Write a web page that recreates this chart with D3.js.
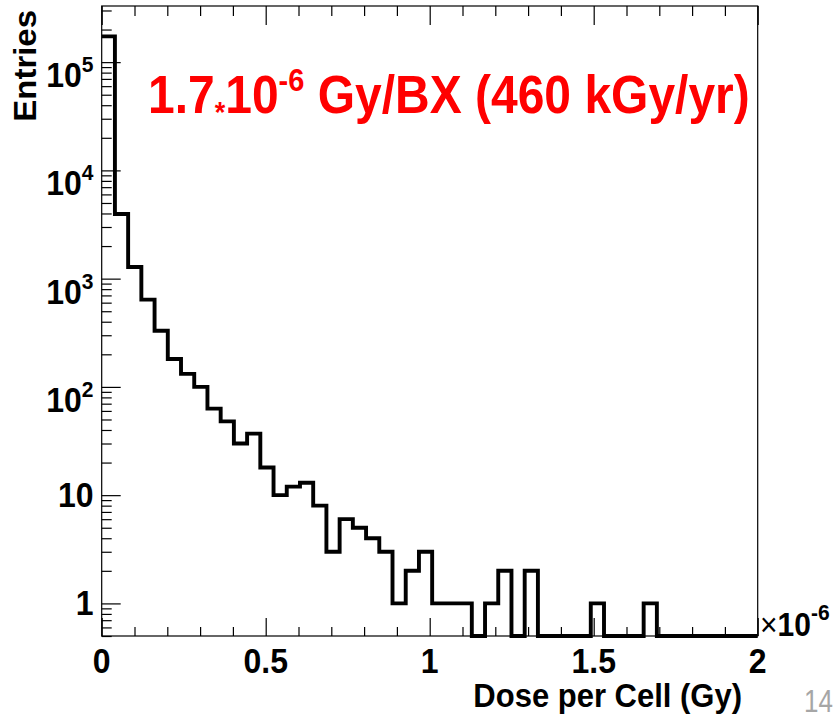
<!DOCTYPE html>
<html>
<head>
<meta charset="utf-8">
<script src="https://cdn.jsdelivr.net/npm/d3@7"></script>
<style>
  html, body { margin: 0; padding: 0; background: #fff; }
  svg { display: block; }
  .lbl { font-family: "Liberation Sans", Arial, Helvetica, sans-serif; font-weight: bold; fill: #000; }
</style>
</head>
<body>
<svg id="chart" width="837" height="721"></svg>
<script>
// Dose per cell histogram (units of 1e-6 Gy), log-scale entries
const binWidth = 0.0403;
const counts = [
  173000, 3950, 1280, 640, 330, 181, 132, 100, 63, 48,
  30, 37, 18, 10, 12, 13, 8, 3, 6, 5,
  4, 3, 1, 2, 3, 1, 1, 1, 0, 1,
  2, 0, 2, 0, 0, 0, 0, 1, 0, 0,
  0, 1, 0, 0, 0, 0, 0, 0, 0, 0
];
const xMajorTicks = [0, 0.5, 1, 1.5, 2];
const xTickLabels = ["0", "0.5", "1", "1.5", "2"];
const yDecades = [1, 10, 100, 1000, 10000, 100000];
const yTickLabels = [["1", ""], ["10", ""], ["10", "2"], ["10", "3"], ["10", "4"], ["10", "5"]];
const xDomain = [0, 2];
const yDomain = [0.5, 3.3e5];

const svg = d3.select("#chart");
const margin = { top: 6, right: 79.3, bottom: 85, left: 101.7 };
const W = 837, H = 721;
const x = d3.scaleLinear().domain(xDomain).range([margin.left, W - margin.right]);
const y = d3.scaleLog().domain(yDomain).range([H - margin.bottom, margin.top]);
const x0 = x.range()[0], x1 = x.range()[1], y0 = y.range()[0], y1 = y.range()[1];

// minor ticks
const xMinor = d3.range(0, 2.0001, 0.1).map(v => +v.toFixed(2)).filter(v => !xMajorTicks.includes(v));
const yMinor = [];
for (let e = -1; e <= 5; e++) {
  for (let m = 2; m <= 9; m++) {
    const v = m * Math.pow(10, e);
    if (v >= yDomain[0] && v <= yDomain[1]) yMinor.push(v);
  }
}

// frame
svg.append("rect")
  .attr("x", x0).attr("y", y1).attr("width", x1 - x0).attr("height", y0 - y1)
  .attr("fill", "none").attr("stroke", "#000").attr("stroke-width", 1.2);

function styleAxis(g) {
  g.select(".domain").remove();
  g.selectAll("line").attr("stroke", "#000").attr("stroke-width", 1.2);
  g.selectAll("text").remove();
}

// bottom axis ticks (pointing inward)
svg.append("g").attr("transform", `translate(0,${y0})`)
  .call(d3.axisBottom(x).tickValues(xMajorTicks).tickSize(-18)).call(styleAxis);
svg.append("g").attr("transform", `translate(0,${y0})`)
  .call(d3.axisBottom(x).tickValues(xMinor).tickSize(-9)).call(styleAxis);
// top axis ticks
svg.append("g").attr("transform", `translate(0,${y1})`)
  .call(d3.axisTop(x).tickValues(xMajorTicks).tickSize(-19)).call(styleAxis);
svg.append("g").attr("transform", `translate(0,${y1})`)
  .call(d3.axisTop(x).tickValues(xMinor).tickSize(-10)).call(styleAxis);
// left axis ticks
svg.append("g").attr("transform", `translate(${x0},0)`)
  .call(d3.axisLeft(y).tickValues(yDecades).tickSize(-19)).call(styleAxis);
svg.append("g").attr("transform", `translate(${x0},0)`)
  .call(d3.axisLeft(y).tickValues(yMinor).tickSize(-10)).call(styleAxis);

// histogram outline (steps)
const yOf = v => (v > 0 ? y(Math.max(v, yDomain[0])) : y0);
let pts = [];
counts.forEach((c, i) => {
  const a = Math.min(i * binWidth, xDomain[1]);
  const b = Math.min((i + 1) * binWidth, xDomain[1]);
  if (a >= xDomain[1]) return;
  pts.push([x(a), yOf(c)]);
  pts.push([x(b), yOf(c)]);
});
svg.append("path")
  .attr("d", d3.line()(pts))
  .attr("fill", "none").attr("stroke", "#000").attr("stroke-width", 3.9)
  .attr("stroke-linejoin", "miter").attr("stroke-linecap", "butt");

// x tick labels
const sy = 1.08;
xMajorTicks.forEach((v, i) => {
  svg.append("text").attr("class", "lbl")
    .attr("transform", `translate(${x(v)},673) scale(1,${sy})`)
    .attr("text-anchor", "middle").attr("font-size", 32)
    .text(xTickLabels[i]);
});

// y tick labels
yDecades.forEach((v, i) => {
  const [base, exp] = yTickLabels[i];
  const t = svg.append("text").attr("class", "lbl")
    .attr("text-anchor", "end").attr("font-size", 32);
  if (exp) {
    t.attr("transform", `translate(93.5,${y(v) + 25}) scale(1,${sy})`);
    t.append("tspan").text(base);
    t.append("tspan").attr("font-size", 21).attr("dy", -14).text(exp);
  } else {
    t.attr("transform", `translate(93.5,${y(v) + 12}) scale(1,${sy})`);
    t.text(base);
  }
});

// axis titles
svg.append("text").attr("class", "lbl")
  .attr("transform", `translate(742,707) scale(1,${sy})`)
  .attr("text-anchor", "end").attr("font-size", 31)
  .text("Dose per Cell (Gy)");
svg.append("text").attr("class", "lbl")
  .attr("transform", `translate(36,10) scale(1,${sy}) rotate(-90)`)
  .attr("text-anchor", "end").attr("font-size", 30.5)
  .text("Entries");

// axis exponent
const ex = svg.append("text").attr("class", "lbl")
  .attr("transform", `translate(760,636) scale(1,${sy})`).attr("font-size", 30);
ex.append("tspan").attr("font-weight", "normal").attr("font-size", 30).text("×");
ex.append("tspan").text("10");
ex.append("tspan").attr("font-size", 21).attr("dy", -15).text("-6");

// annotation
const ann = svg.append("text").attr("class", "lbl")
  .attr("transform", `translate(148,113) scale(1,1.1)`)
  .attr("font-size", 48).style("fill", "#ff0000");
ann.append("tspan").text("1.7");
ann.append("tspan").attr("font-size", 27).attr("dy", 8).text("*");
ann.append("tspan").attr("dy", -8).text("10");
ann.append("tspan").attr("font-size", 29).attr("dy", -20).text("-6");
ann.append("tspan").attr("dy", 20).text(" Gy/BX (460 kGy/yr)");

// page number
svg.append("text")
  .attr("transform", "translate(833,712) scale(1,1.2)")
  .attr("text-anchor", "end")
  .attr("font-family", "'Liberation Sans', Arial, sans-serif")
  .attr("font-size", 26).attr("fill", "#a6a6a6")
  .text("14");
</script>
</body>
</html>
